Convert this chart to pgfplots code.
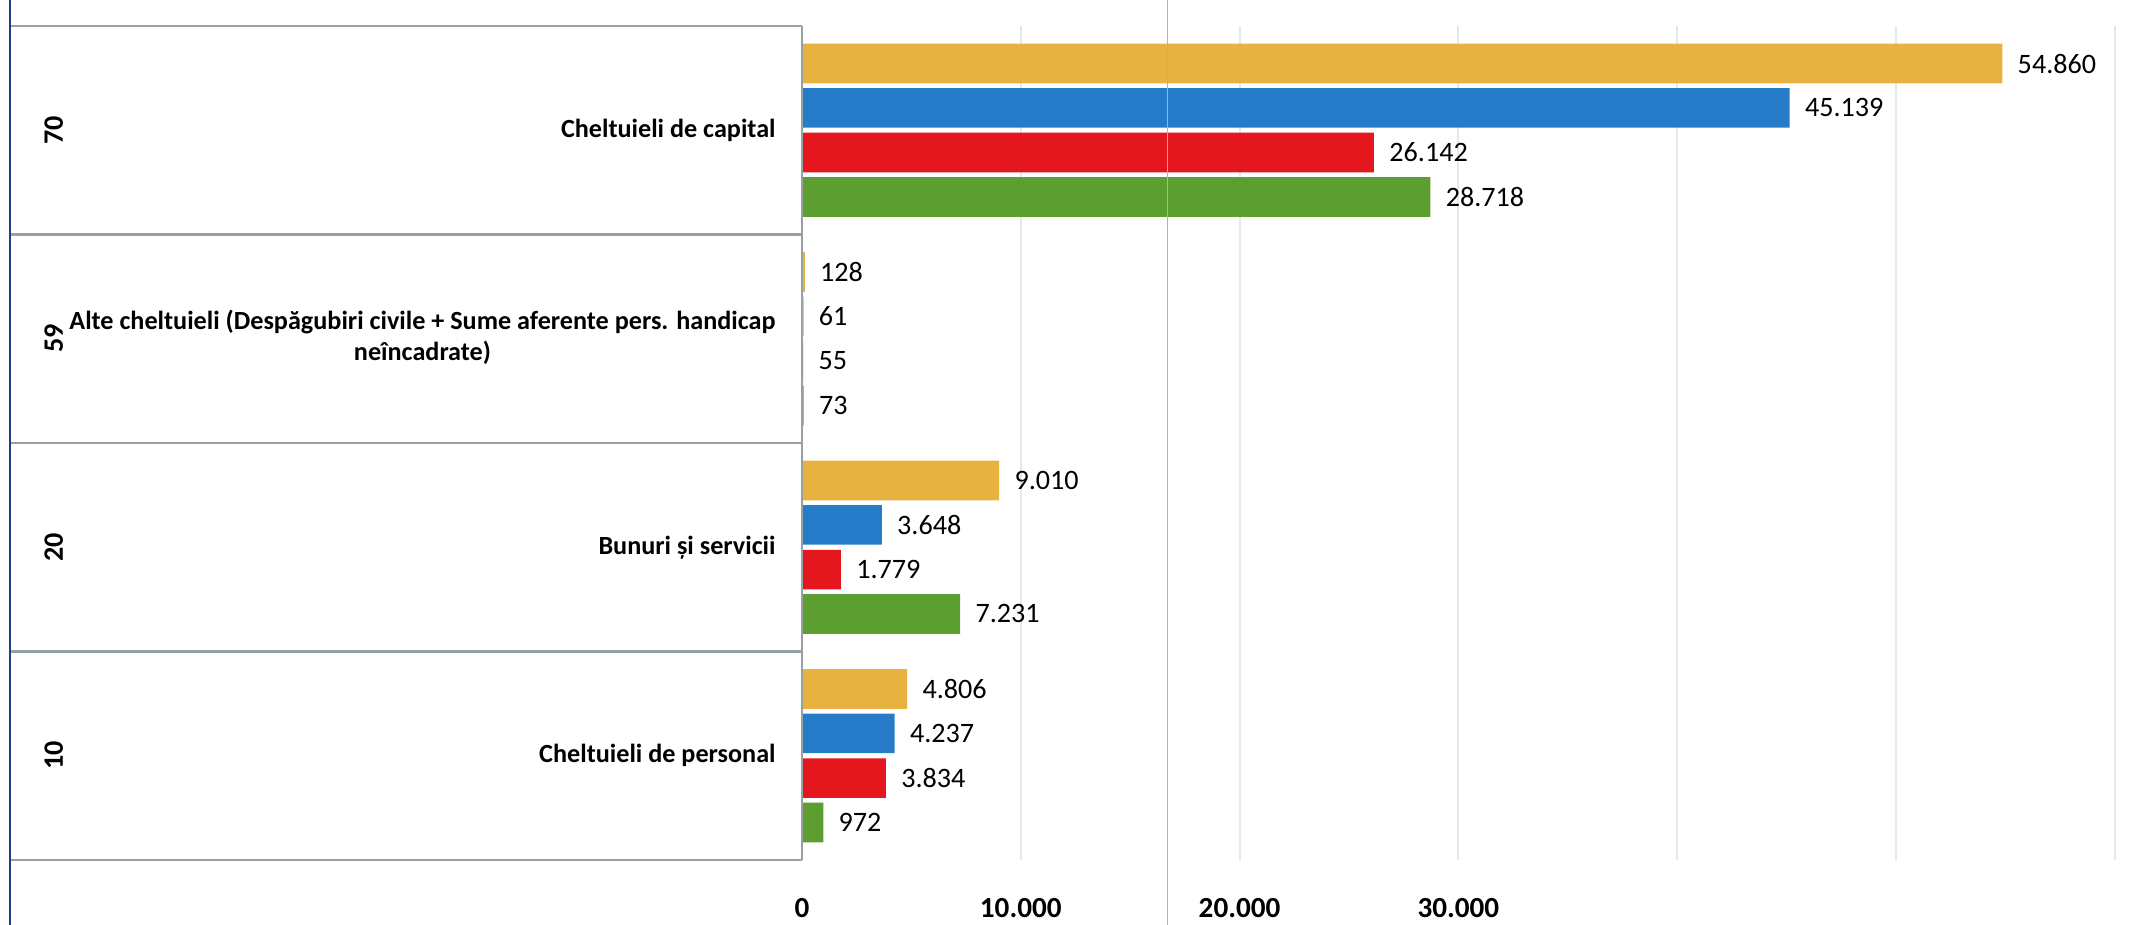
\documentclass[border=0pt]{standalone}
\usepackage{pgfplots}
\pgfplotsset{compat=1.18}
\usepackage{fontspec}
\setmainfont{Carlito}
\definecolor{cOrange}{RGB}{232,178,64}
\definecolor{cBlue}{RGB}{38,124,200}
\definecolor{cRed}{RGB}{228,22,30}
\definecolor{cGreen}{RGB}{92,158,48}
\definecolor{cLine}{RGB}{150,160,165}
\definecolor{cLeft}{RGB}{30,60,140}
\definecolor{cGrid}{RGB}{222,234,238}
\definecolor{cMark}{RGB}{240,172,40}
\begin{document}
\begin{tikzpicture}
\useasboundingbox (0,0) rectangle (213.4mm,92.4mm);
\begin{axis}[
  at={(80.2mm,6.4mm)}, anchor=south west,
  scale only axis, width=133.2mm, height=83.4mm,
  xbar, bar width=0.19,
  xmin=0, xmax=60880, ymin=-0.5, ymax=3.5,
  clip=false,
  axis line style={draw=none},
  major tick length=0pt,
  scaled x ticks=false,
  xtick={0,10000,20000,30000,40000,50000,60000},
  xticklabels={0,10.000,20.000,30.000,,,},
  xmajorgrids, major grid style={draw=cGrid, line width=0.6pt},
  ytick={0,1,2,3},
  yticklabels={Cheltuieli de personal, Bunuri și servicii,
    {\begin{tabular}{@{}c@{}}Alte cheltuieli (Despăgubiri civile + Sume aferente pers. handicap\\neîncadrate)\end{tabular}},
    Cheltuieli de capital},
  yticklabel style={font=\fontsize{7.45}{9}\selectfont\bfseries, xshift=-1.4mm},
  xticklabel style={font=\fontsize{8.3}{10}\selectfont\bfseries, yshift=-2.6mm},
  /pgf/number format/1000 sep={.},
  /pgf/number format/assume math mode=true,
  nodes near coords,
  nodes near coords style={font=\fontsize{8}{9.6}\selectfont, anchor=west, xshift=0.3mm, text=black},
]
\addplot[fill=cOrange, draw=none, bar shift=0.32] coordinates {(4806,0) (9010,1) (128,2) (54860,3)};
\addplot[fill=cBlue, draw=none, bar shift=0.107] coordinates {(4237,0) (3648,1) (61,2) (45139,3)};
\addplot[fill=cRed, draw=none, bar shift=-0.107] coordinates {(3834,0) (1779,1) (55,2) (26142,3)};
\addplot[fill=cGreen, draw=none, bar shift=-0.32] coordinates {(972,0) (7231,1) (73,2) (28718,3)};
% table frame on the left
\draw[cLine, line width=0.6pt] (axis cs:-36200,-0.5) -- (axis cs:0,-0.5);
\draw[cLine, line width=0.6pt] (axis cs:-36200,0.5) -- (axis cs:0,0.5);
\draw[cLine, line width=0.6pt] (axis cs:-36200,1.5) -- (axis cs:0,1.5);
\draw[cLine, line width=0.6pt] (axis cs:-36200,2.5) -- (axis cs:0,2.5);
\draw[cLine, line width=0.6pt] (axis cs:-36200,3.5) -- (axis cs:0,3.5);
\draw[cLine, line width=0.6pt] (axis cs:0,-0.5) -- (axis cs:0,3.5);
\draw[cLeft, line width=0.8pt] (axis cs:-36200,-0.9) -- (axis cs:-36200,3.7);
\draw[cMark, line width=0.5pt] (axis cs:16700,-0.9) -- (axis cs:16700,3.7);
\node[rotate=90, font=\fontsize{8}{9.6}\selectfont\bfseries] at (axis cs:-34200,0) {10};
\node[rotate=90, font=\fontsize{8}{9.6}\selectfont\bfseries] at (axis cs:-34200,1) {20};
\node[rotate=90, font=\fontsize{8}{9.6}\selectfont\bfseries] at (axis cs:-34200,2) {59};
\node[rotate=90, font=\fontsize{8}{9.6}\selectfont\bfseries] at (axis cs:-34200,3) {70};
\end{axis}
\end{tikzpicture}
\end{document}
